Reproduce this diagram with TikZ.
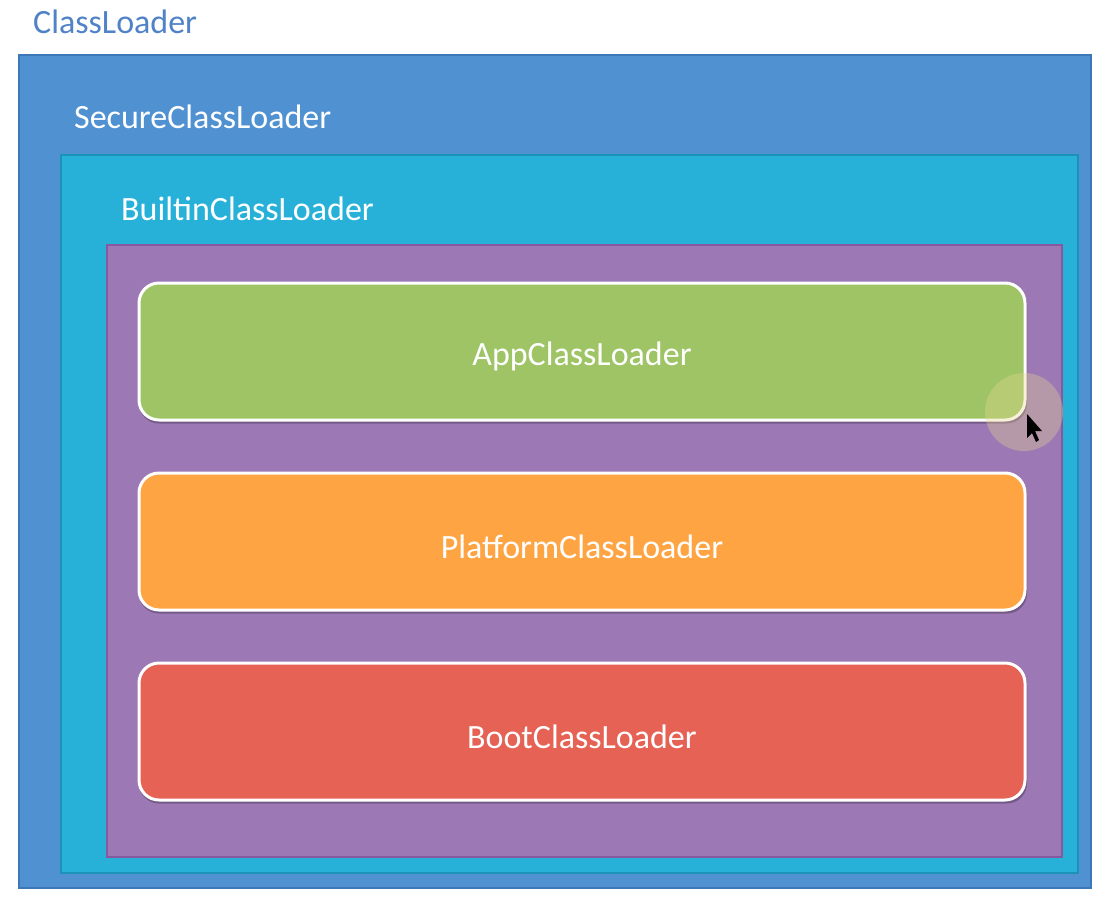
\documentclass[tikz,border=0pt]{standalone}
\usepackage{fontspec}
\setmainfont{Carlito}
\usetikzlibrary{positioning}

\definecolor{outerblue}{HTML}{5091D1}
\definecolor{outerline}{HTML}{3C78B8}
\definecolor{cyanfill}{HTML}{28B1D8}
\definecolor{cyanline}{HTML}{1B93B8}
\definecolor{purplefill}{HTML}{9C78B5}
\definecolor{purpleline}{HTML}{86599E}
\definecolor{appgreen}{HTML}{9EC465}
\definecolor{platorange}{HTML}{FFA443}
\definecolor{bootred}{HTML}{E56255}
\definecolor{titleblue}{HTML}{5082C8}
\definecolor{halo}{HTML}{E8D890}

\newcommand{\lblfont}{\fontsize{34}{40}\selectfont}

\begin{document}
\begin{tikzpicture}[x=1pt,y=-1pt,
  layer/.style={draw, line width=1.5pt, anchor=north west, inner sep=0pt},
  loader/.style={draw=white, line width=3pt, rounded corners=20pt,
    minimum width=886pt, minimum height=137pt, text=white, font=\lblfont},
  title/.style={anchor=west, inner sep=0pt, font=\lblfont}]
  \useasboundingbox[fill=white] (0,0) rectangle (1100,902);
  % Nested layers
  \node[layer, draw=outerline, fill=outerblue, minimum width=1072pt, minimum height=833pt]
    (classloader) at (18,54) {};
  \node[layer, draw=cyanline, fill=cyanfill, minimum width=1017pt, minimum height=718pt]
    (secure) at (60,154) {};
  \node[layer, draw=purpleline, fill=purplefill, minimum width=955pt, minimum height=612pt]
    (builtin) at (106,244) {};
  % Layer titles
  \node[title, text=titleblue] (classloadertitle) at (33,22) {ClassLoader};
  \node[title, text=white] (securetitle) at (74,117) {SecureClassLoader};
  \node[title, text=white] (builtintitle) at (121,209) {BuiltinClassLoader};
  % Loaders
  \foreach \name/\col/\y/\txt in {app/appgreen/351.5/AppClassLoader,
      platform/platorange/541.5/PlatformClassLoader,
      boot/bootred/731.5/BootClassLoader} {
    \fill[black, opacity=0.25, rounded corners=20pt] (139,\y-66) rectangle (1027,\y+72);
    \node[loader, fill=\col] (\name) at (582,\y) {};
    \node[text=white, font=\lblfont] (\name text) at (582,\y+5) {\txt};
  }
  % Cursor
  \fill[halo, opacity=0.35] (1024,412) circle (39);
  \fill[black] (1027,414) -- (1027,438) -- (1032,433) -- (1036,442) -- (1039,440)
    -- (1035,431) -- (1042,431) -- cycle;
\end{tikzpicture}
\end{document}
